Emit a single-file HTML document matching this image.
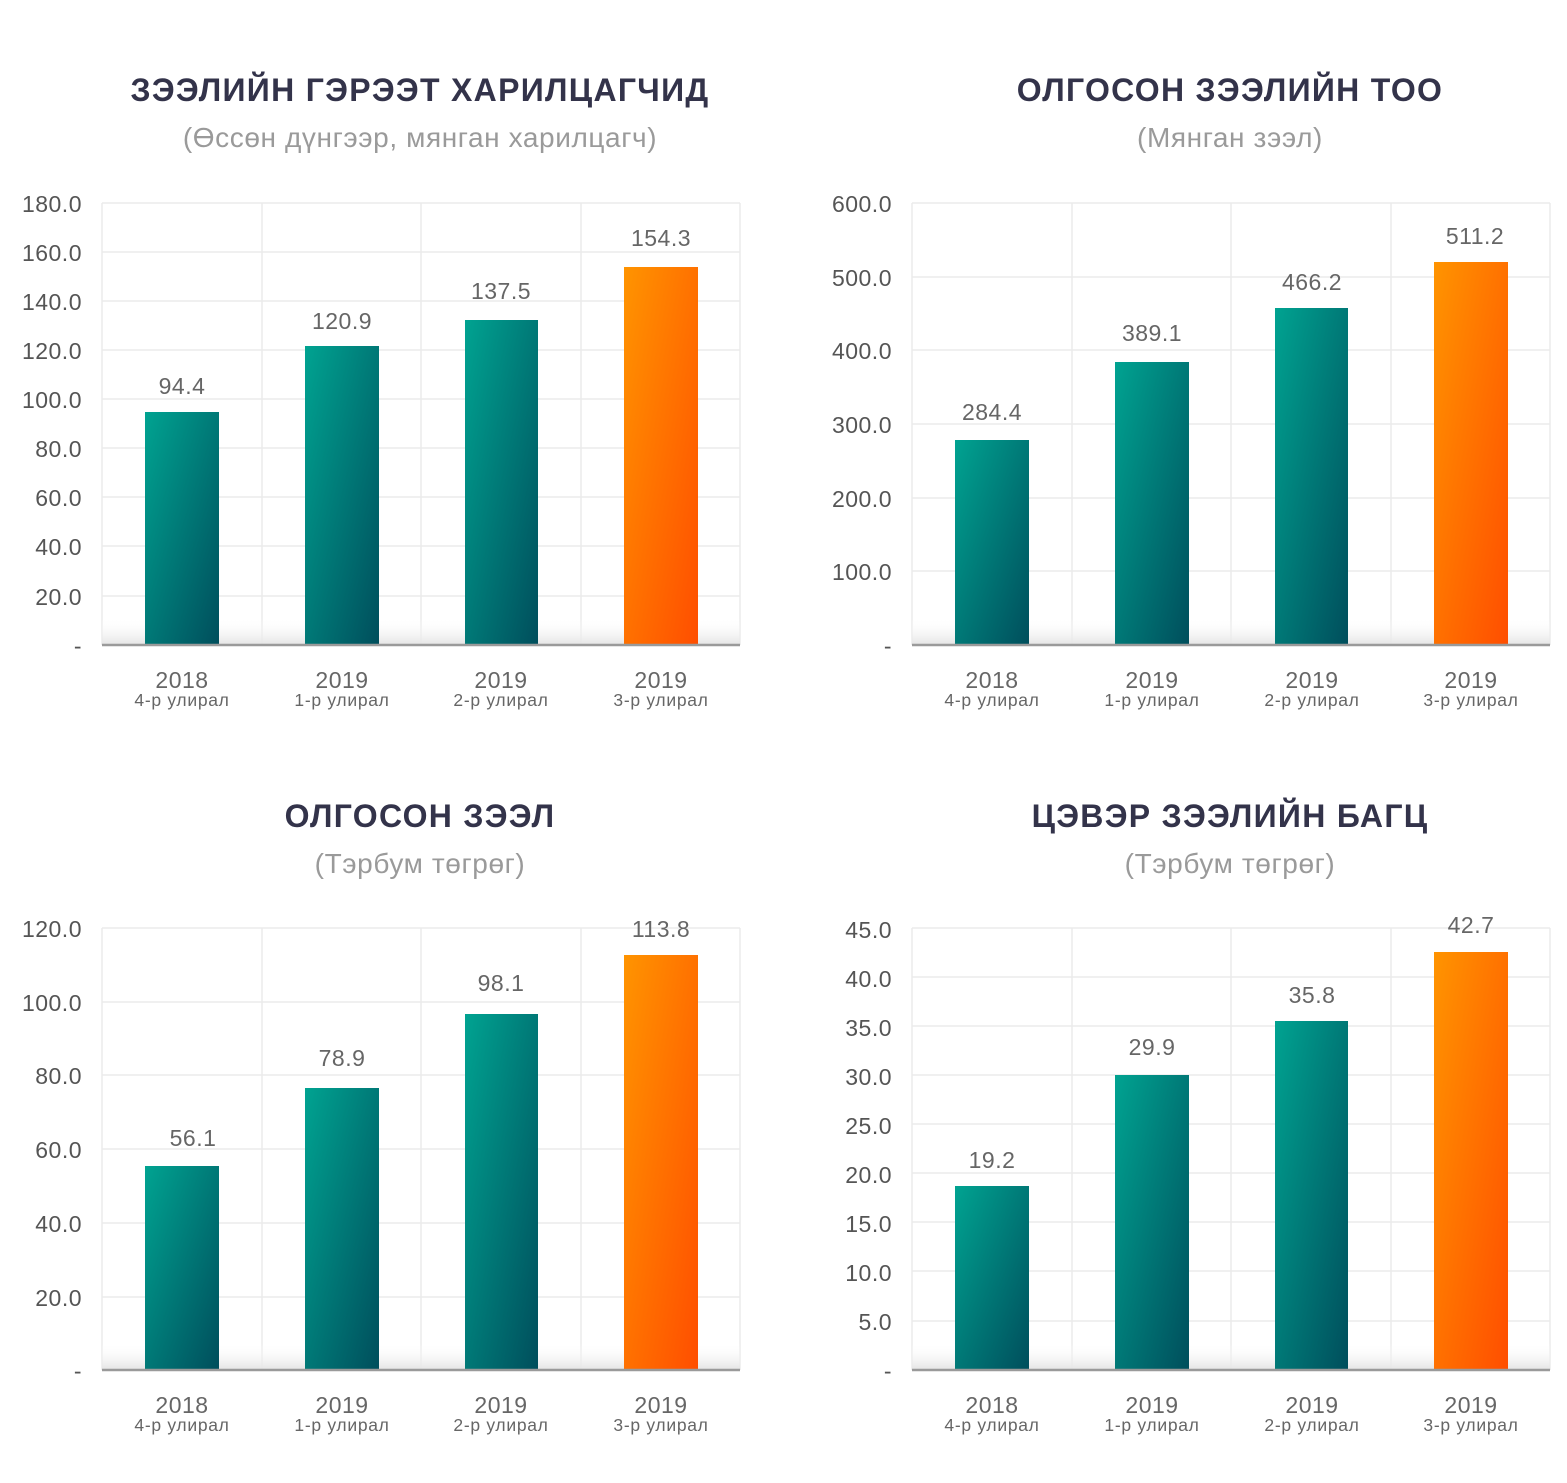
<!DOCTYPE html>
<html><head><meta charset="utf-8"><style>
html,body{margin:0;padding:0;background:#fff;}
svg{display:block;font-family:"Liberation Sans","DejaVu Sans",sans-serif;}
.t{font-size:32px;font-weight:bold;fill:#33334a;text-anchor:middle;letter-spacing:1.3px}
.s{font-size:28px;fill:#9a9a9a;text-anchor:middle;letter-spacing:0.6px}
.y{font-size:23px;fill:#555;text-anchor:end;letter-spacing:0.5px}
.v{font-size:23px;fill:#666;text-anchor:middle;letter-spacing:0.5px}
.xa{font-size:23px;fill:#666;text-anchor:middle;letter-spacing:0.5px}
.xb{font-size:17.5px;fill:#666;text-anchor:middle;letter-spacing:0.7px}
.g{stroke:#ebebeb;stroke-width:1.5}
.ax{stroke:#9a9a9a;stroke-width:2.5}
</style></head><body>
<svg width="1567" height="1483" viewBox="0 0 1567 1483">
<defs>
<linearGradient id="tl" x1="0" y1="0" x2="1" y2="1"><stop offset="0" stop-color="#00a391"/><stop offset="1" stop-color="#004e5c"/></linearGradient>
<linearGradient id="or" x1="0" y1="0" x2="1" y2="1"><stop offset="0" stop-color="#ff9400"/><stop offset="1" stop-color="#ff4e00"/></linearGradient>
<linearGradient id="sh" x1="0" y1="0" x2="0" y2="1"><stop offset="0" stop-color="#fff" stop-opacity="0"/><stop offset="1" stop-color="#e4e4e4"/></linearGradient>
</defs>

<!-- Chart 1 -->
<text class="t" x="420" y="101">ЗЭЭЛИЙН ГЭРЭЭТ ХАРИЛЦАГЧИД</text>
<text class="s" x="420" y="147">(Өссөн дүнгээр, мянган харилцагч)</text>
<g>
<line class="g" x1="102" y1="203" x2="740" y2="203"/><line class="g" x1="102" y1="252" x2="740" y2="252"/><line class="g" x1="102" y1="301" x2="740" y2="301"/><line class="g" x1="102" y1="350" x2="740" y2="350"/><line class="g" x1="102" y1="399" x2="740" y2="399"/><line class="g" x1="102" y1="448" x2="740" y2="448"/><line class="g" x1="102" y1="497" x2="740" y2="497"/><line class="g" x1="102" y1="546" x2="740" y2="546"/><line class="g" x1="102" y1="596" x2="740" y2="596"/>
<line class="g" x1="102" y1="203" x2="102" y2="645"/><line class="g" x1="262" y1="203" x2="262" y2="645"/><line class="g" x1="421" y1="203" x2="421" y2="645"/><line class="g" x1="581" y1="203" x2="581" y2="645"/><line class="g" x1="740" y1="203" x2="740" y2="645"/>
<rect x="102" y="618" width="638" height="27" fill="url(#sh)"/>
<text class="y" x="82" y="212">180.0</text><text class="y" x="82" y="261">160.0</text><text class="y" x="82" y="310">140.0</text><text class="y" x="82" y="359">120.0</text><text class="y" x="82" y="408">100.0</text><text class="y" x="82" y="457">80.0</text><text class="y" x="82" y="506">60.0</text><text class="y" x="82" y="555">40.0</text><text class="y" x="82" y="605">20.0</text><text class="y" x="82" y="654">-</text>
<rect x="145" y="412" width="74" height="233" fill="url(#tl)"/><rect x="305" y="346" width="74" height="299" fill="url(#tl)"/><rect x="465" y="320" width="73" height="325" fill="url(#tl)"/><rect x="624" y="267" width="74" height="378" fill="url(#or)"/>
<text class="v" x="182" y="394">94.4</text><text class="v" x="342" y="329">120.9</text><text class="v" x="501" y="299">137.5</text><text class="v" x="661" y="246">154.3</text>
<line class="ax" x1="102" y1="645" x2="740" y2="645"/>
<text class="xa" x="182" y="688">2018</text><text class="xb" x="182" y="706">4-р улирал</text>
<text class="xa" x="342" y="688">2019</text><text class="xb" x="342" y="706">1-р улирал</text>
<text class="xa" x="501" y="688">2019</text><text class="xb" x="501" y="706">2-р улирал</text>
<text class="xa" x="661" y="688">2019</text><text class="xb" x="661" y="706">3-р улирал</text>
</g>

<!-- Chart 2 -->
<text class="t" x="1230" y="101">ОЛГОСОН ЗЭЭЛИЙН ТОО</text>
<text class="s" x="1230" y="147">(Мянган зээл)</text>
<g>
<line class="g" x1="912" y1="203" x2="1550" y2="203"/><line class="g" x1="912" y1="277" x2="1550" y2="277"/><line class="g" x1="912" y1="350" x2="1550" y2="350"/><line class="g" x1="912" y1="424" x2="1550" y2="424"/><line class="g" x1="912" y1="498" x2="1550" y2="498"/><line class="g" x1="912" y1="571" x2="1550" y2="571"/>
<line class="g" x1="912" y1="203" x2="912" y2="645"/><line class="g" x1="1072" y1="203" x2="1072" y2="645"/><line class="g" x1="1231" y1="203" x2="1231" y2="645"/><line class="g" x1="1391" y1="203" x2="1391" y2="645"/><line class="g" x1="1550" y1="203" x2="1550" y2="645"/>
<rect x="912" y="618" width="638" height="27" fill="url(#sh)"/>
<text class="y" x="892" y="212">600.0</text><text class="y" x="892" y="286">500.0</text><text class="y" x="892" y="359">400.0</text><text class="y" x="892" y="433">300.0</text><text class="y" x="892" y="507">200.0</text><text class="y" x="892" y="580">100.0</text><text class="y" x="892" y="654">-</text>
<rect x="955" y="440" width="74" height="205" fill="url(#tl)"/><rect x="1115" y="362" width="74" height="283" fill="url(#tl)"/><rect x="1275" y="308" width="73" height="337" fill="url(#tl)"/><rect x="1434" y="262" width="74" height="383" fill="url(#or)"/>
<text class="v" x="992" y="420">284.4</text><text class="v" x="1152" y="341">389.1</text><text class="v" x="1312" y="290">466.2</text><text class="v" x="1475" y="244">511.2</text>
<line class="ax" x1="912" y1="645" x2="1550" y2="645"/>
<text class="xa" x="992" y="688">2018</text><text class="xb" x="992" y="706">4-р улирал</text>
<text class="xa" x="1152" y="688">2019</text><text class="xb" x="1152" y="706">1-р улирал</text>
<text class="xa" x="1312" y="688">2019</text><text class="xb" x="1312" y="706">2-р улирал</text>
<text class="xa" x="1471" y="688">2019</text><text class="xb" x="1471" y="706">3-р улирал</text>
</g>

<!-- Chart 3 -->
<text class="t" x="420" y="827">ОЛГОСОН ЗЭЭЛ</text>
<text class="s" x="420" y="873">(Тэрбум төгрөг)</text>
<g>
<line class="g" x1="102" y1="928" x2="740" y2="928"/><line class="g" x1="102" y1="1002" x2="740" y2="1002"/><line class="g" x1="102" y1="1075" x2="740" y2="1075"/><line class="g" x1="102" y1="1149" x2="740" y2="1149"/><line class="g" x1="102" y1="1223" x2="740" y2="1223"/><line class="g" x1="102" y1="1297" x2="740" y2="1297"/>
<line class="g" x1="102" y1="928" x2="102" y2="1370"/><line class="g" x1="262" y1="928" x2="262" y2="1370"/><line class="g" x1="421" y1="928" x2="421" y2="1370"/><line class="g" x1="581" y1="928" x2="581" y2="1370"/><line class="g" x1="740" y1="928" x2="740" y2="1370"/>
<rect x="102" y="1343" width="638" height="27" fill="url(#sh)"/>
<text class="y" x="82" y="937">120.0</text><text class="y" x="82" y="1011">100.0</text><text class="y" x="82" y="1084">80.0</text><text class="y" x="82" y="1158">60.0</text><text class="y" x="82" y="1232">40.0</text><text class="y" x="82" y="1306">20.0</text><text class="y" x="82" y="1379">-</text>
<rect x="145" y="1166" width="74" height="204" fill="url(#tl)"/><rect x="305" y="1088" width="74" height="282" fill="url(#tl)"/><rect x="465" y="1014" width="73" height="356" fill="url(#tl)"/><rect x="624" y="955" width="74" height="415" fill="url(#or)"/>
<text class="v" x="193" y="1146">56.1</text><text class="v" x="342" y="1066">78.9</text><text class="v" x="501" y="991">98.1</text><text class="v" x="661" y="937">113.8</text>
<line class="ax" x1="102" y1="1370" x2="740" y2="1370"/>
<text class="xa" x="182" y="1413">2018</text><text class="xb" x="182" y="1431">4-р улирал</text>
<text class="xa" x="342" y="1413">2019</text><text class="xb" x="342" y="1431">1-р улирал</text>
<text class="xa" x="501" y="1413">2019</text><text class="xb" x="501" y="1431">2-р улирал</text>
<text class="xa" x="661" y="1413">2019</text><text class="xb" x="661" y="1431">3-р улирал</text>
</g>

<!-- Chart 4 -->
<text class="t" x="1230" y="827">ЦЭВЭР ЗЭЭЛИЙН БАГЦ</text>
<text class="s" x="1230" y="873">(Тэрбум төгрөг)</text>
<g>
<line class="g" x1="912" y1="928" x2="1550" y2="928"/><line class="g" x1="912" y1="977" x2="1550" y2="977"/><line class="g" x1="912" y1="1026" x2="1550" y2="1026"/><line class="g" x1="912" y1="1075" x2="1550" y2="1075"/><line class="g" x1="912" y1="1124" x2="1550" y2="1124"/><line class="g" x1="912" y1="1173" x2="1550" y2="1173"/><line class="g" x1="912" y1="1222" x2="1550" y2="1222"/><line class="g" x1="912" y1="1271" x2="1550" y2="1271"/><line class="g" x1="912" y1="1321" x2="1550" y2="1321"/>
<line class="g" x1="912" y1="928" x2="912" y2="1370"/><line class="g" x1="1072" y1="928" x2="1072" y2="1370"/><line class="g" x1="1231" y1="928" x2="1231" y2="1370"/><line class="g" x1="1391" y1="928" x2="1391" y2="1370"/><line class="g" x1="1550" y1="928" x2="1550" y2="1370"/>
<rect x="912" y="1343" width="638" height="27" fill="url(#sh)"/>
<text class="y" x="892" y="938">45.0</text><text class="y" x="892" y="987">40.0</text><text class="y" x="892" y="1036">35.0</text><text class="y" x="892" y="1085">30.0</text><text class="y" x="892" y="1134">25.0</text><text class="y" x="892" y="1183">20.0</text><text class="y" x="892" y="1232">15.0</text><text class="y" x="892" y="1281">10.0</text><text class="y" x="892" y="1330">5.0</text><text class="y" x="892" y="1379">-</text>
<rect x="955" y="1186" width="74" height="184" fill="url(#tl)"/><rect x="1115" y="1075" width="74" height="295" fill="url(#tl)"/><rect x="1275" y="1021" width="73" height="349" fill="url(#tl)"/><rect x="1434" y="952" width="74" height="418" fill="url(#or)"/>
<text class="v" x="992" y="1168">19.2</text><text class="v" x="1152" y="1055">29.9</text><text class="v" x="1312" y="1003">35.8</text><text class="v" x="1471" y="933">42.7</text>
<line class="ax" x1="912" y1="1370" x2="1550" y2="1370"/>
<text class="xa" x="992" y="1413">2018</text><text class="xb" x="992" y="1431">4-р улирал</text>
<text class="xa" x="1152" y="1413">2019</text><text class="xb" x="1152" y="1431">1-р улирал</text>
<text class="xa" x="1312" y="1413">2019</text><text class="xb" x="1312" y="1431">2-р улирал</text>
<text class="xa" x="1471" y="1413">2019</text><text class="xb" x="1471" y="1431">3-р улирал</text>
</g>
</svg>
</body></html>
